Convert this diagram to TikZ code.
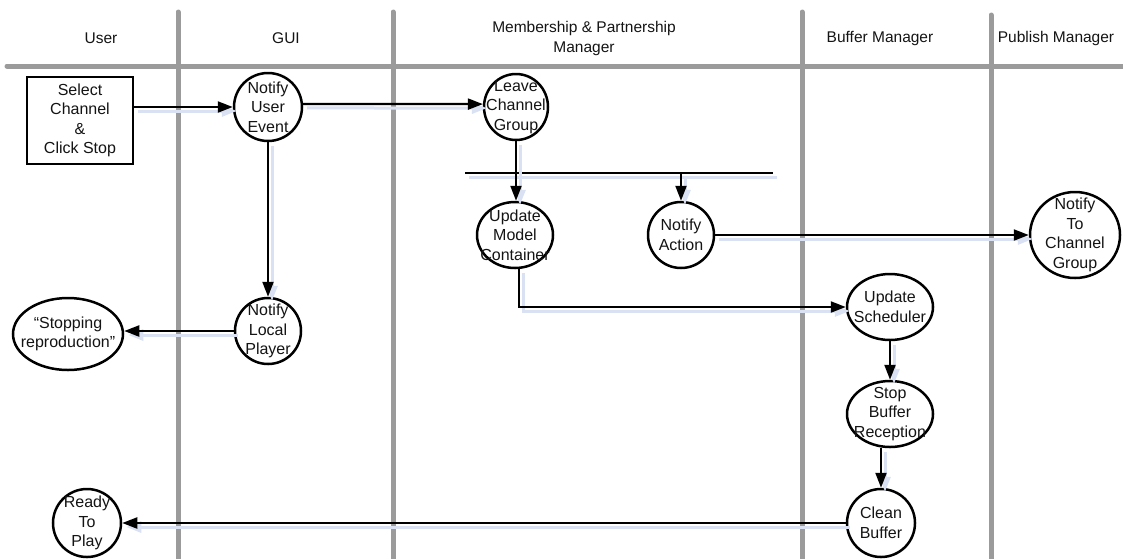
\documentclass[tikz,border=0pt]{standalone}
\usepackage{fontspec}
\setmainfont{Liberation Sans}
\usetikzlibrary{shapes.geometric,arrows.meta}
\definecolor{lanegray}{RGB}{155,155,155}
\definecolor{shadowc}{RGB}{218,225,242}
\definecolor{inkc}{RGB}{20,20,20}
\begin{document}
\begin{tikzpicture}[x=1pt,y=-1pt,
  lane/.style={draw=lanegray,line width=5pt,line cap=round},
  head/.style={inner sep=0pt,align=center,text=inkc,
    font=\fontsize{15.5}{20}\selectfont},
  stepbox/.style={draw,rectangle,line width=2.4pt,fill=white,inner sep=0pt,
    minimum width=106pt,minimum height=87pt,align=center,text=inkc,
    font=\fontsize{16}{19.5}\selectfont},
  proc/.style={draw,ellipse,line width=2.5pt,fill=white,inner sep=-80pt,
    align=center,text=inkc,font=\fontsize{16}{19.5}\selectfont},
  shadowed/.style={preaction={draw=shadowc,line width=3pt,
    transform canvas={shift={(4pt,-4pt)}}}},
  flow/.style={draw,line width=2.2pt,shadowed,
    -{Triangle[length=15pt,width=11pt]}},
  barline/.style={draw,line width=2.4pt,shadowed}]
\useasboundingbox (0,0) rectangle (1123,558);

% swimlane grid
\draw[lane] (7,66) -- (1135,66);
\draw[lane] (178,12) -- (178,575);
\draw[lane] (393,12) -- (393,575);
\draw[lane] (802,12) -- (802,575);
\draw[lane] (991,15) -- (991,575);

% lane titles
\node[head] (hUser) at (101,38) {User};
\node[head] (hGui) at (286,38) {GUI};
\node[head] (hMember) at (584,38) {Membership \& Partnership\\Manager};
\node[head] (hBuffer) at (880,38) {Buffer Manager};
\node[head] (hPublish) at (1056,38) {Publish Manager};

% activities
\node[stepbox] (select) at (80,120.5) {Select\\Channel\\\&\\Click Stop};
\node[proc,minimum width=68pt,minimum height=68pt] (nue) at (268,107) {Notify\\User\\Event};
\node[proc,minimum width=64pt,minimum height=66pt] (leave) at (516,107) {Leave\\Channel\\Group};
\node[proc,minimum width=76pt,minimum height=66pt] (umc) at (515,235) {Update\\Model\\Container};
\node[proc,minimum width=66pt,minimum height=66pt] (act) at (681,235) {Notify\\Action};
\node[proc,minimum width=90pt,minimum height=86pt] (ntcg) at (1075,235) {Notify\\To\\Channel\\Group};
\node[proc,minimum width=66pt,minimum height=66pt] (nlp) at (268,331) {Notify\\Local\\Player};
\node[proc,minimum width=110pt,minimum height=72pt] (stopping) at (68,334) {“Stopping\\reproduction”};
\node[proc,minimum width=86pt,minimum height=66pt] (sched) at (890,307) {Update\\Scheduler};
\node[proc,minimum width=86pt,minimum height=66pt] (sbr) at (890,414) {Stop\\Buffer\\Reception};
\node[proc,minimum width=68pt,minimum height=68pt] (cb) at (881,523) {Clean\\Buffer};
\node[proc,minimum width=68pt,minimum height=68pt] (ready) at (87,523) {Ready\\To\\Play};

% fork bar
\coordinate (barL) at (465,173);
\coordinate (barR) at (773,173);
\draw[barline] (barL) -- (barR);

% control flow
\draw[flow] (select.east |- nue.west) -- (nue.west);
\draw[flow] (nue.5) -- (leave.175);
\draw[flow] (nue.south) -- (nlp.north);
\draw[flow] (nlp.west) -- (nlp.west -| stopping.east);
\draw[flow] (leave.south) -- (leave.south |- umc.north);
\draw[flow] (barL -| act.north) -- (act.north);
\draw[flow] (act.east) -- (ntcg.west);
\draw[flow] ([xshift=4pt]umc.south) |- (sched.west);
\draw[flow] (sched.south) -- (sbr.north);
\draw[flow] (sbr.south -| cb.north) -- (cb.north);
\draw[flow] (cb.west) -- (ready.east);
\end{tikzpicture}
\end{document}
